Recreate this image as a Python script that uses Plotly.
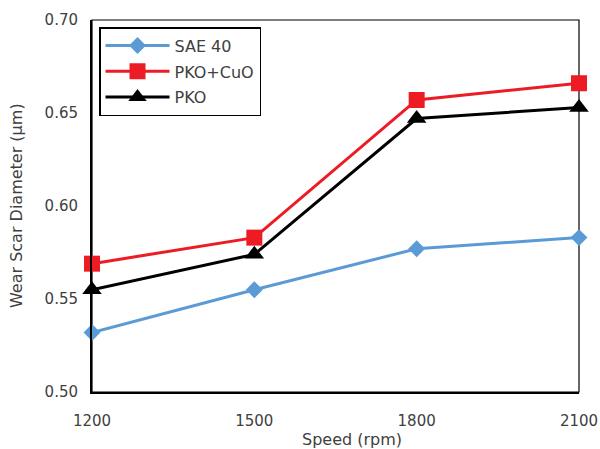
import plotly.graph_objects as go

speed = [1200, 1500, 1800, 2100]
sae40 = [0.532, 0.555, 0.577, 0.583]
pko_cuo = [0.569, 0.583, 0.657, 0.666]
pko = [0.555, 0.574, 0.647, 0.653]
y_ticks = [0.50, 0.55, 0.60, 0.65, 0.70]

FONT = "DejaVu Sans"
TXT = "#404040"

fig = go.Figure()
fig.add_trace(go.Scatter(x=speed, y=sae40, name="SAE 40", mode="lines+markers",
                         line=dict(color="#5B9BD5", width=3),
                         marker=dict(symbol="diamond", size=13, color="#5B9BD5"),
                         cliponaxis=False, legendgroup="a"))
fig.add_trace(go.Scatter(x=speed, y=pko_cuo, name="PKO+CuO", mode="lines+markers",
                         line=dict(color="#ED1C24", width=3),
                         marker=dict(symbol="square", size=16, color="#ED1C24"),
                         cliponaxis=False, legendgroup="b"))
fig.add_trace(go.Scatter(x=speed, y=pko, name="PKO", mode="lines+markers",
                         line=dict(color="black", width=3),
                         marker=dict(symbol="triangle-up", size=17, color="black"),
                         cliponaxis=False, legendgroup="c"))

fig.update_layout(
    width=600, height=449,
    margin=dict(l=92, r=21, t=20, b=57, autoexpand=False),
    paper_bgcolor="white", plot_bgcolor="white",
    font=dict(family=FONT, size=15, color=TXT),
    legend=dict(x=0.0144, y=0.981, xanchor="left", yanchor="top",
                bordercolor="black", borderwidth=1.5, bgcolor="white",
                font=dict(size=16, color=TXT), tracegroupgap=2,
                itemwidth=64),
    showlegend=True,
)
fig.update_xaxes(range=[1200, 2100], tickvals=speed, ticktext=[str(s) for s in speed],
                 showgrid=False, zeroline=False, showline=True, linecolor="black",
                 linewidth=2, ticks="", ticklabelstandoff=14, automargin=False,
                 tickfont=dict(size=15, color=TXT))
fig.update_yaxes(range=[0.50, 0.70], tickvals=y_ticks, tickformat=".2f",
                 showgrid=False, zeroline=False, showline=True, linecolor="black",
                 linewidth=2, ticks="", ticklabelstandoff=9, automargin=False,
                 tickfont=dict(size=15, color=TXT))
fig.add_shape(type="rect", xref="paper", yref="paper", x0=0, x1=1, y0=0, y1=1,
              line=dict(color="black", width=1.2), layer="below")
fig.add_annotation(text="Speed (rpm)", xref="paper", yref="paper", x=0.534, y=-0.129,
                   xanchor="center", yanchor="middle", showarrow=False,
                   font=dict(size=16, color=TXT))
fig.add_annotation(text="Wear Scar Diameter (µm)", xref="paper", yref="paper",
                   x=-0.156, y=0.5, xanchor="center", yanchor="middle",
                   textangle=-90, showarrow=False, font=dict(size=16, color=TXT))

fig.write_html("out.html", config={"displayModeBar": False},
               post_script="document.body.style.margin='0';document.body.style.overflow='hidden';")
